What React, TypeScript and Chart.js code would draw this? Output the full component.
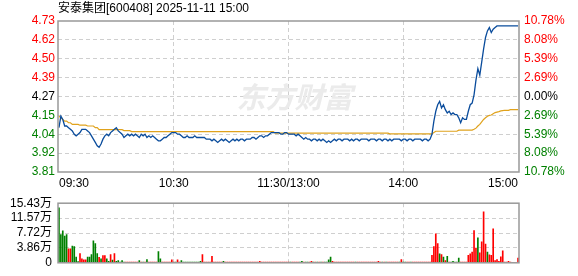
import React, { useEffect, useRef } from 'react';
import { Chart, registerables } from 'chart.js';

Chart.register(...registerables);

// ---------- data ----------
const TITLE = '安泰集团[600408] 2025-11-11 15:00';
const PRE_CLOSE = 4.27;
const LIMIT_PCT = 0.1078;
const VOL_MAX = 15.43;

const timeTickMinutes = [0, 60, 120, 180, 240];
const timeTickLabels = ['09:30', '10:30', '11:30/13:00', '14:00', '15:00'];
// bottom -> top
const priceTickLabels = ['3.81', '3.92', '4.04', '4.15', '4.27', '4.39', '4.50', '4.62', '4.73'];
const pctTickLabels = ['10.78%', '8.08%', '5.39%', '2.69%', '0.00%', '2.69%', '5.39%', '8.08%', '10.78%'];
const volTickLabels = ['0', '3.86万', '7.72万', '11.57万', '15.43万'];

// one value per minute, 09:30 .. 15:00 (241 points)
const price = [
  4.08, 4.15, 4.13, 4.09, 4.09, 4.08, 4.07, 4.06, 4.04, 4.03, // 0
  4.04, 4.05, 4.07, 4.07, 4.07, 4.06, 4.05, 4.03, 4.01, 3.99, // 10
  3.97, 3.96, 3.98, 4.01, 4.03, 4.04, 4.03, 4.05, 4.06, 4.07, // 20
  4.08, 4.06, 4.05, 4.04, 4.02, 4.03, 4.04, 4.03, 4.04, 4.03, // 30
  4.04, 4.03, 4.02, 4.04, 4.03, 4.04, 4.02, 4.03, 4.02, 4.03, // 40
  4.02, 4.01, 4.00, 4.00, 4.01, 4.02, 4.02, 4.03, 4.04, 4.05, // 50
  4.05, 4.05, 4.04, 4.04, 4.03, 4.02, 4.02, 4.03, 4.02, 4.02, // 60
  4.02, 4.03, 4.02, 4.02, 4.02, 4.02, 4.02, 4.01, 4.01, 4.01, // 70
  4.00, 4.01, 4.00, 3.99, 4.00, 4.01, 4.00, 4.01, 4.00, 3.99, // 80
  4.00, 4.01, 4.00, 4.01, 4.00, 4.01, 4.01, 4.00, 4.01, 4.01, // 90
  4.01, 4.02, 4.02, 4.01, 4.02, 4.03, 4.03, 4.02, 4.03, 4.03, // 100
  4.04, 4.05, 4.05, 4.05, 4.05, 4.05, 4.04, 4.04, 4.05, 4.05, // 110
  4.04, 4.04, 4.04, 4.04, 4.03, 4.04, 4.03, 4.02, 4.01, 4.02, // 120
  4.01, 4.01, 4.00, 4.01, 4.01, 4.00, 4.01, 4.00, 4.01, 4.00, // 130
  3.99, 4.00, 3.99, 4.00, 4.01, 4.00, 4.01, 4.01, 4.00, 4.01, // 140
  4.01, 4.01, 4.00, 4.01, 4.00, 4.01, 4.01, 4.00, 4.01, 4.01, // 150
  4.01, 4.01, 4.00, 4.01, 4.01, 4.01, 4.00, 4.01, 4.01, 4.00, // 160
  4.01, 4.01, 4.00, 4.01, 4.00, 4.01, 4.01, 4.01, 4.01, 4.00, // 170
  4.01, 4.01, 4.00, 4.01, 4.01, 4.00, 4.01, 4.01, 4.01, 4.01, // 180
  4.00, 4.01, 4.01, 4.00, 4.01, 4.04, 4.12, 4.18, 4.22, 4.24, // 190
  4.20, 4.22, 4.19, 4.17, 4.18, 4.16, 4.17, 4.16, 4.16, 4.14, // 200
  4.11, 4.14, 4.13, 4.13, 4.18, 4.22, 4.23, 4.28, 4.37, 4.44, // 210
  4.40, 4.48, 4.56, 4.63, 4.67, 4.69, 4.66, 4.68, 4.69, 4.70, // 220
  4.70, 4.70, 4.70, 4.70, 4.70, 4.70, 4.70, 4.70, 4.70, 4.70, // 230
  4.70, // 240
];

const avgPrice = [
  4.15, 4.14, 4.13, 4.12, 4.12, 4.11, 4.11, 4.10, 4.10, 4.10, // 0
  4.10, 4.095, 4.095, 4.095, 4.095, 4.09, 4.09, 4.09, 4.09, 4.08, // 10
  4.08, 4.068, 4.068, 4.068, 4.068, 4.068, 4.068, 4.068, 4.068, 4.068, // 20
  4.068, 4.068, 4.068, 4.068, 4.062, 4.062, 4.062, 4.062, 4.056, 4.056, // 30
  4.056, 4.056, 4.056, 4.056, 4.056, 4.056, 4.056, 4.056, 4.056, 4.056, // 40
  4.056, 4.056, 4.056, 4.056, 4.056, 4.056, 4.056, 4.056, 4.056, 4.056, // 50
  4.056, 4.056, 4.056, 4.056, 4.056, 4.056, 4.056, 4.056, 4.056, 4.056, // 60
  4.056, 4.056, 4.056, 4.056, 4.056, 4.056, 4.056, 4.056, 4.056, 4.056, // 70
  4.056, 4.056, 4.056, 4.056, 4.056, 4.056, 4.056, 4.056, 4.056, 4.056, // 80
  4.056, 4.056, 4.056, 4.056, 4.056, 4.056, 4.056, 4.056, 4.056, 4.056, // 90
  4.056, 4.056, 4.056, 4.056, 4.056, 4.056, 4.056, 4.056, 4.056, 4.056, // 100
  4.056, 4.056, 4.056, 4.047, 4.047, 4.047, 4.047, 4.047, 4.047, 4.047, // 110
  4.047, 4.047, 4.047, 4.047, 4.047, 4.047, 4.047, 4.047, 4.047, 4.047, // 120
  4.047, 4.047, 4.047, 4.047, 4.047, 4.047, 4.047, 4.047, 4.047, 4.047, // 130
  4.047, 4.047, 4.047, 4.047, 4.047, 4.047, 4.047, 4.047, 4.047, 4.047, // 140
  4.047, 4.047, 4.047, 4.047, 4.047, 4.047, 4.047, 4.047, 4.047, 4.047, // 150
  4.047, 4.047, 4.047, 4.047, 4.047, 4.047, 4.047, 4.047, 4.047, 4.047, // 160
  4.047, 4.047, 4.047, 4.042, 4.042, 4.042, 4.042, 4.042, 4.042, 4.042, // 170
  4.042, 4.042, 4.042, 4.042, 4.042, 4.042, 4.042, 4.042, 4.042, 4.042, // 180
  4.042, 4.042, 4.042, 4.042, 4.042, 4.042, 4.05, 4.058, 4.058, 4.058, // 190
  4.058, 4.058, 4.058, 4.058, 4.058, 4.058, 4.058, 4.058, 4.058, 4.065, // 200
  4.065, 4.065, 4.065, 4.065, 4.065, 4.065, 4.065, 4.07, 4.077, 4.09, // 210
  4.10, 4.115, 4.13, 4.14, 4.15, 4.155, 4.157, 4.165, 4.172, 4.175, // 220
  4.178, 4.182, 4.184, 4.186, 4.186, 4.186, 4.19, 4.19, 4.19, 4.19, // 230
  4.19, // 240
];

// volume in 万
const volume = [
  14.2, 7.3, 8.3, 6.9, 7.3, 3.6, 3.6, 4.3, 4.2, 1.5, // 0
  0.3, 2.4, 1.0, 0.8, 0.8, 1.5, 1.5, 2.1, 5.7, 5.0, // 10
  2.4, 1.4, 1.0, 1.9, 1.9, 1.0, 0.35, 2.1, 0.7, 2.4, // 20
  0.35, 0.55, 0.2, 0.55, 0.2, 0.2, 0.2, 0.2, 0.2, 0.2, // 30
  0.2, 0.2, 0.55, 0.2, 0.2, 0.2, 0.83, 0.2, 0.2, 0.2, // 40
  0.2, 0.2, 2.9, 1.0, 0.2, 0.2, 0.2, 0.2, 0.2, 0.8, // 50
  0.2, 0.2, 0.8, 0.2, 0.55, 0.2, 0.2, 0.2, 0.2, 0.2, // 60
  0.2, 0.2, 0.2, 0.2, 0.4, 2.1, 0.2, 0.2, 0.2, 0.2, // 70
  1.7, 0.2, 0.2, 0.2, 0.2, 0.2, 0.4, 0.2, 0.2, 0.2, // 80
  0.2, 0.2, 0.2, 0.2, 0.2, 0.2, 0.2, 0.2, 0.2, 0.2, // 90
  0.2, 0.2, 0.2, 0.2, 0.2, 0.4, 0.2, 0.2, 0.2, 0.2, // 100
  0.2, 0.2, 0.2, 0.2, 0.2, 0.2, 0.2, 0.2, 0.2, 0.2, // 110
  0.2, 0.2, 0.2, 0.2, 0.2, 0.2, 0.2, 0.4, 0.2, 0.2, // 120
  0.2, 0.2, 0.4, 0.2, 0.2, 0.2, 0.2, 0.2, 0.2, 0.2, // 130
  0.2, 0.8, 1.5, 0.4, 0.2, 0.2, 0.2, 0.2, 0.2, 0.2, // 140
  0.2, 0.2, 0.2, 0.2, 0.2, 0.2, 0.2, 0.2, 0.2, 0.2, // 150
  0.2, 0.2, 0.2, 0.2, 0.2, 0.2, 0.2, 0.4, 0.2, 0.2, // 160
  0.2, 0.2, 0.2, 0.2, 0.2, 0.2, 0.2, 0.2, 0.2, 0.83, // 170
  0.2, 0.2, 0.2, 0.2, 0.2, 0.2, 0.2, 0.2, 0.2, 0.2, // 180
  0.2, 0.2, 0.2, 0.2, 0.2, 1.94, 4.17, 7.5, 5.0, 2.3, // 190
  2.1, 1.5, 0.55, 1.67, 0.2, 0.2, 0.4, 0.2, 0.2, 1.25, // 200
  0.2, 0.2, 0.2, 0.2, 1.94, 2.3, 2.8, 8.33, 3.8, 6.46, // 210
  2.57, 5.4, 13.2, 4.86, 2.8, 2.08, 1.94, 8.8, 0.55, 0.83, // 220
  0.4, 1.53, 3.1, 0.2, 0.2, 0.4, 0.2, 0, 0, 0, // 230
  1.25, // 240
];

// 1 = up (red), 0 = down (green)
const volumeUp = [
  0, 0, 0, 0, 0, 1, 1, 0, 0, 0, // 0
  0, 1, 1, 1, 1, 0, 0, 0, 0, 0, // 10
  0, 1, 0, 1, 1, 0, 0, 1, 0, 1, // 20
  0, 0, 0, 0, 0, 1, 1, 1, 1, 1, // 30
  1, 1, 0, 1, 0, 1, 0, 1, 1, 1, // 40
  1, 1, 0, 0, 1, 1, 1, 1, 1, 1, // 50
  1, 0, 1, 1, 0, 0, 0, 0, 0, 0, // 60
  0, 0, 0, 0, 0, 1, 1, 1, 1, 1, // 70
  1, 1, 1, 1, 1, 1, 0, 1, 1, 1, // 80
  1, 1, 1, 1, 1, 1, 1, 1, 1, 1, // 90
  1, 1, 1, 1, 1, 1, 1, 1, 1, 1, // 100
  1, 1, 1, 1, 1, 1, 1, 1, 1, 1, // 110
  1, 0, 1, 1, 1, 1, 0, 0, 1, 0, // 120
  0, 1, 1, 0, 1, 0, 1, 0, 1, 0, // 130
  0, 0, 0, 1, 1, 1, 1, 1, 1, 1, // 140
  1, 1, 1, 1, 1, 0, 1, 1, 1, 1, // 150
  1, 1, 1, 1, 1, 1, 1, 1, 1, 0, // 160
  1, 0, 1, 1, 1, 1, 1, 1, 0, 1, // 170
  0, 0, 1, 1, 0, 1, 1, 1, 1, 1, // 180
  1, 1, 1, 1, 1, 1, 1, 1, 1, 0, // 190
  1, 0, 1, 0, 1, 0, 0, 0, 0, 0, // 200
  1, 1, 1, 1, 1, 1, 1, 1, 1, 0, // 210
  1, 1, 1, 1, 0, 1, 1, 1, 1, 1, // 220
  1, 1, 1, 1, 1, 1, 1, 1, 1, 1, // 230
  1, // 240
];

// ---------- styles ----------
const RED = '#ff0000';
const GREEN = '#008000';
const BLUE = '#0a4c9c';
const GOLD = '#e0a21c';
const FRAME = '#999999';
const GRID = '#cfcfcf';
const FONT = '"Liberation Sans", Arial, "Noto Sans CJK SC", sans-serif';

const W = 578;
const PRICE_H = 190;
const VOL_H = 86;

const yMin = PRE_CLOSE * (1 - LIMIT_PCT);
const yMax = PRE_CLOSE * (1 + LIMIT_PCT);

const framePlugin = {
  id: 'frame',
  afterDraw(chart: any) {
    const { ctx, chartArea: a } = chart;
    ctx.save();
    ctx.strokeStyle = FRAME;
    ctx.lineWidth = 1.5;
    ctx.strokeRect(a.left, a.top, a.right - a.left, a.bottom - a.top);
    ctx.restore();
  },
};

const decorPlugin = {
  id: 'decor',
  beforeDatasetsDraw(chart: any) {
    const { ctx, chartArea: a } = chart;
    ctx.save();
    ctx.font = 'italic bold 29px "Noto Sans CJK SC", sans-serif';
    ctx.fillStyle = '#ebebeb';
    ctx.textAlign = 'center';
    ctx.textBaseline = 'middle';
    ctx.fillText('东方财富', (a.left + a.right) / 2 + 6, (a.top + a.bottom) / 2);
    ctx.restore();
  },
  afterDraw(chart: any) {
    const { ctx, chartArea: a } = chart;
    ctx.save();
    ctx.font = '12px ' + FONT;
    ctx.fillStyle = '#000';
    ctx.textAlign = 'left';
    ctx.textBaseline = 'middle';
    ctx.fillText(TITLE, a.left, 9);
    ctx.restore();
  },
};

const gridColor = (ctx: any) => {
  const n = ctx.scale && ctx.scale.ticks ? ctx.scale.ticks.length : 0;
  if (ctx.index === 0 || ctx.index === n - 1) return 'rgba(0,0,0,0)';
  return GRID;
};

export default function App() {
  const priceRef = useRef<HTMLCanvasElement>(null);
  const volRef = useRef<HTMLCanvasElement>(null);

  useEffect(() => {
    const xScale = (height: number, showLabels: boolean) => ({
      type: 'linear' as const,
      min: -0.5,
      max: 240.5,
      offset: false,
      afterBuildTicks: (s: any) => {
        s.ticks = timeTickMinutes.map((v) => ({ value: v }));
      },
      afterFit: (s: any) => {
        s.height = height;
      },
      ticks: {
        display: showLabels,
        autoSkip: false,
        maxRotation: 0,
        align: 'inner' as const,
        padding: 4,
        color: '#000',
        font: { family: FONT, size: 12 },
        callback: (_v: any, i: number) => timeTickLabels[i],
      },
      grid: { color: gridColor, lineWidth: 1, drawTicks: false, offset: false },
      border: { display: false, dash: [4, 3] },
    });

    const priceChart = new Chart(priceRef.current as HTMLCanvasElement, {
      type: 'line',
      data: {
        datasets: [
          {
            data: price.map((p, i) => ({ x: i, y: p })),
            borderColor: BLUE,
            borderWidth: 1.3,
            pointRadius: 0,
            tension: 0,
          },
          {
            data: avgPrice.map((p, i) => ({ x: i, y: p })),
            borderColor: GOLD,
            borderWidth: 1.2,
            pointRadius: 0,
            tension: 0,
          },
        ],
      },
      options: {
        responsive: false,
        animation: false,
        devicePixelRatio: 1,
        events: [],
        layout: { padding: { top: 21, left: 0, right: 0, bottom: 0 } },
        plugins: { legend: { display: false }, tooltip: { enabled: false } },
        scales: {
          x: xScale(18, true),
          y: {
            position: 'left',
            min: yMin,
            max: yMax,
            afterBuildTicks: (s: any) => {
              s.ticks = priceTickLabels.map((_l, i) => ({ value: yMin + (i * (yMax - yMin)) / 8 }));
            },
            afterFit: (s: any) => {
              s.width = 58;
            },
            ticks: {
              padding: 3,
              autoSkip: false,
              font: { family: FONT, size: 12 },
              color: (c: any) => (c.index < 4 ? GREEN : c.index === 4 ? '#000' : RED),
              callback: (_v: any, i: number) => priceTickLabels[i],
            },
            grid: { color: gridColor, drawTicks: false },
            border: { display: false, dash: [4, 3] },
          },
          y1: {
            position: 'right',
            min: yMin,
            max: yMax,
            afterBuildTicks: (s: any) => {
              s.ticks = pctTickLabels.map((_l, i) => ({ value: yMin + (i * (yMax - yMin)) / 8 }));
            },
            afterFit: (s: any) => {
              s.width = 59;
            },
            ticks: {
              padding: 5,
              autoSkip: false,
              font: { family: FONT, size: 12 },
              color: (c: any) => (c.index < 4 ? GREEN : c.index === 4 ? '#000' : RED),
              callback: (_v: any, i: number) => pctTickLabels[i],
            },
            grid: { display: false, drawTicks: false },
            border: { display: false },
          },
        },
      },
      plugins: [decorPlugin, framePlugin],
    } as any);

    const volChart = new Chart(volRef.current as HTMLCanvasElement, {
      type: 'bar',
      data: {
        datasets: [
          {
            data: volume.map((v, i) => ({ x: i, y: v })),
            backgroundColor: volumeUp.map((u) => (u ? RED : GREEN)),
            borderWidth: 0,
            barThickness: 1,
          },
        ],
      },
      options: {
        responsive: false,
        animation: false,
        devicePixelRatio: 1,
        events: [],
        layout: { padding: { top: 6, left: 0, right: 59, bottom: 0 } },
        plugins: { legend: { display: false }, tooltip: { enabled: false } },
        scales: {
          x: xScale(6, false),
          y: {
            position: 'left',
            min: 0,
            max: VOL_MAX,
            afterBuildTicks: (s: any) => {
              s.ticks = volTickLabels.map((_l, i) => ({ value: (i * VOL_MAX) / 4 }));
            },
            afterFit: (s: any) => {
              s.width = 58;
            },
            ticks: {
              padding: 6,
              autoSkip: false,
              font: { family: FONT, size: 12 },
              color: '#000',
              callback: (_v: any, i: number) => volTickLabels[i],
            },
            grid: { color: gridColor, drawTicks: false },
            border: { display: false, dash: [4, 3] },
          },
        },
      },
      plugins: [framePlugin],
    } as any);

    return () => {
      priceChart.destroy();
      volChart.destroy();
    };
  }, []);

  return (
    <div style={{ position: 'fixed', left: 0, top: 0, width: W, height: PRICE_H + VOL_H, background: '#fff' }}>
      <canvas ref={priceRef} width={W} height={PRICE_H} style={{ display: 'block', width: W, height: PRICE_H }} />
      <canvas ref={volRef} width={W} height={VOL_H} style={{ display: 'block', width: W, height: VOL_H }} />
    </div>
  );
}
